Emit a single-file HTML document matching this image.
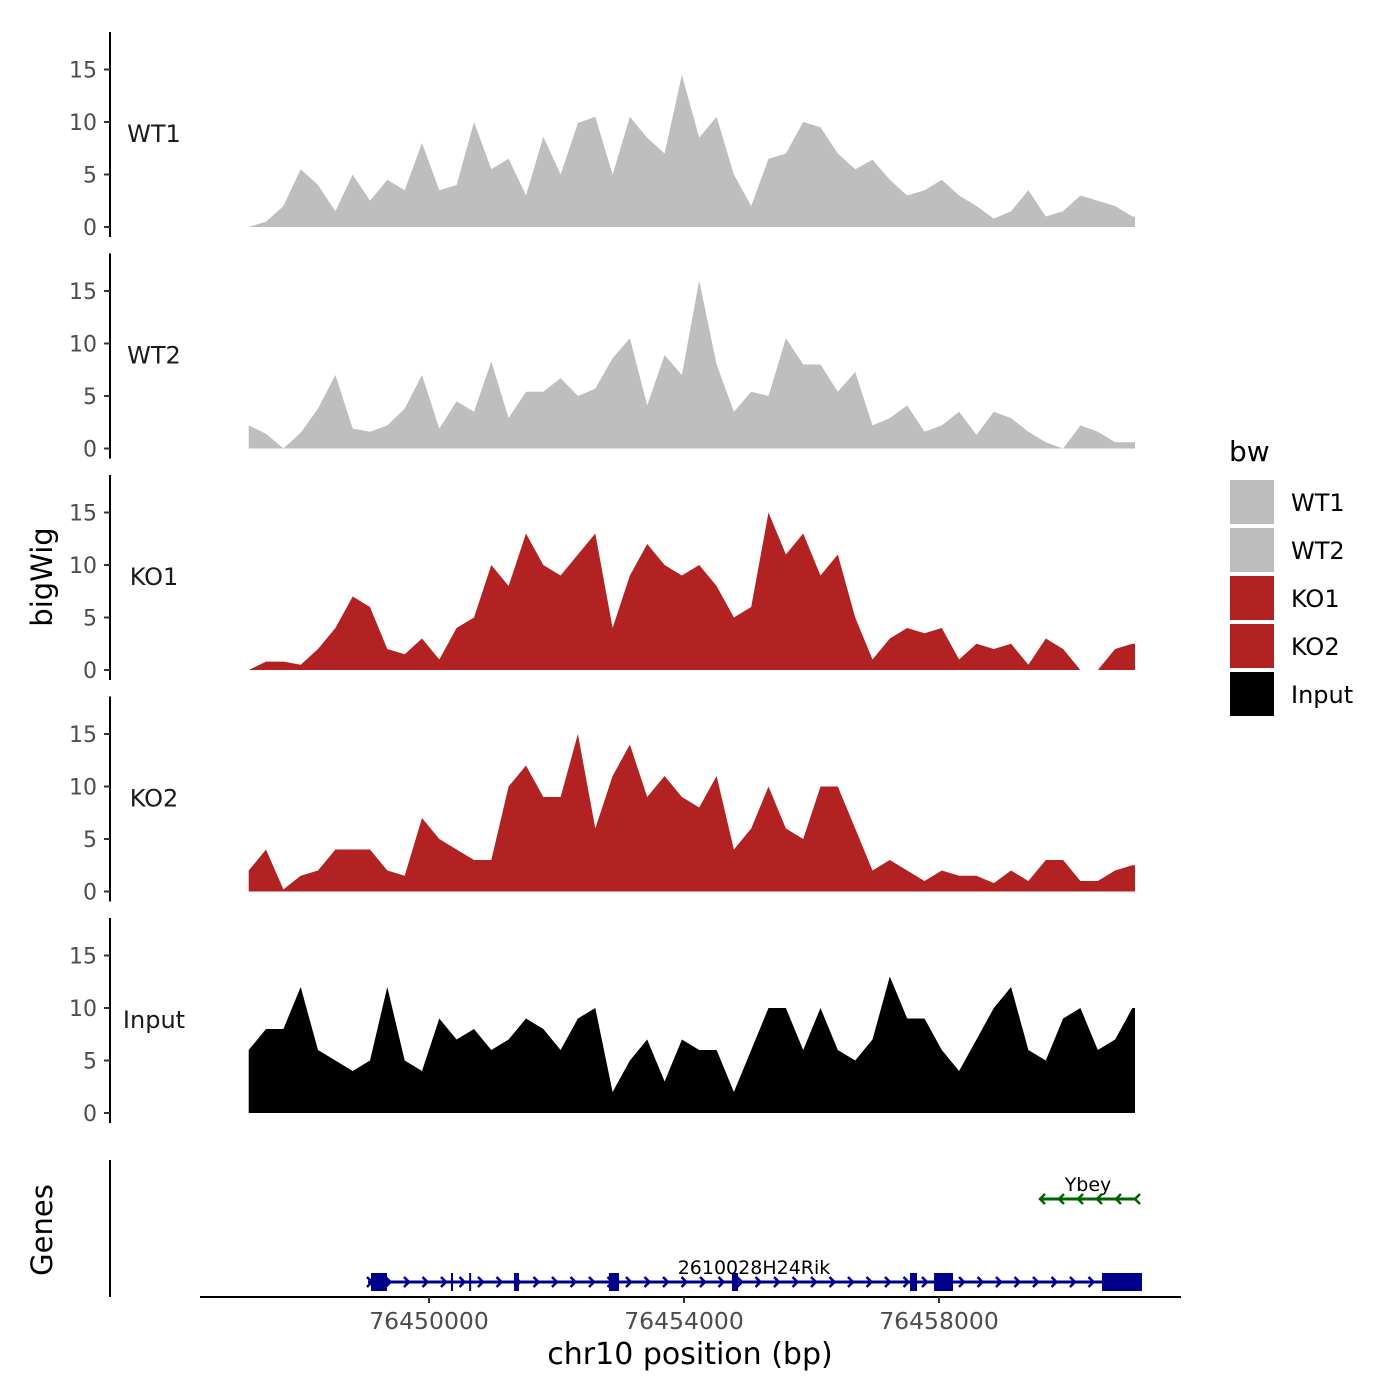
<!DOCTYPE html>
<html><head><meta charset="utf-8">
<style>
body{margin:0;background:#fff;}
svg{display:block;font-family:"DejaVu Sans","Liberation Sans",sans-serif;}
</style></head>
<body>
<svg id="chart" width="1400" height="1400" viewBox="0 0 1400 1400">
<rect width="1400" height="1400" fill="#fff"/>
</svg>
<script>
// ---- data ----
const samples = ["WT1","WT2","KO1","KO2","Input"];
const sampleColors = ["#bebebe","#bebebe","#b22222","#b22222","#000000"];
const binStart = 76447172;
const binStep = 271.8;
const wt1Values = [0,0.5,2,5.5,4,1.5,5,2.5,4.5,3.5,8,3.5,4,10,5.5,6.5,3,8.6,5,9.9,10.5,5,10.5,8.5,7,14.5,8.5,10.5,5,2,6.5,7,10,9.5,7,5.5,6.4,4.5,3,3.5,4.5,3,2,0.8,1.5,3.5,1,1.5,3,2.5,2,1];
const wt2Values = [2.2,1.4,0,1.5,3.8,7,1.9,1.6,2.2,3.8,7,1.9,4.5,3.5,8.3,2.9,5.4,5.4,6.7,5,5.7,8.6,10.5,4.1,8.9,7,16,8,3.5,5.4,5,10.5,8,8,5.4,7.3,2.2,2.9,4.1,1.6,2.2,3.5,1.3,3.5,2.9,1.6,0.6,0,2.2,1.6,0.6,0.6];
const ko1Values = [0,0.8,0.8,0.5,2,4,7,6,2,1.5,3,1,4,5,10,8,13,10,9,11,13,4,9,12,10,9,10,8,5,6,15,11,13,9,11,5,1,3,4,3.5,4,1,2.5,2,2.5,0.5,3,2,0,0,2,2.5];
const ko2Values = [2,4,0.2,1.5,2,4,4,4,2,1.5,7,5,4,3,3,10,12,9,9,15,6,11,14,9,11,9,8,11,4,6,10,6,5,10,10,6,2,3,2,1,2,1.5,1.5,0.8,2,1,3,3,1,1,2,2.5];
const inputValues = [6,8,8,12,6,5,4,5,12,5,4,9,7,8,6,7,9,8,6,9,10,2,5,7,3,7,6,6,2,6,10,10,6,10,6,5,7,13,9,9,6,4,7,10,12,6,5,9,10,6,7,10];
const seriesValues = [wt1Values,wt2Values,ko1Values,ko2Values,inputValues];
const yTicks = [0,5,10,15];
const xTicks = [76450000,76454000,76458000];
const geneName = "2610028H24Rik";
const geneStart = 76449043, geneEnd = 76461106;
const exonStarts = [76449090,76450345,76450630,76451333,76452824,76454753,76457545,76457922,76460557];
const exonEnds   = [76449341,76450376,76450660,76451412,76452980,76454847,76457655,76458220,76461184];
const ybeyName = "Ybey";
const ybeyStart = 76459584, ybeyEnd = 76461106;

// ---- scales ----
const NS="http://www.w3.org/2000/svg";
const svg=document.getElementById('chart');
function xs(bp){return 429+(bp-76450000)*0.06375;}
const panelBase=[227,448.5,670,891.5,1113];
const pxPerUnit=10.5;
function el(tag,attrs,parent){const e=document.createElementNS(NS,tag);for(const k in attrs)e.setAttribute(k,attrs[k]);(parent||svg).appendChild(e);return e;}
function txt(s,attrs,parent){const e=el('text',attrs,parent);e.textContent=s;return e;}

samples.forEach((name,p)=>{
  const base=panelBase[p];
  const g=el('g',{});
  
  
  const vals=seriesValues[p];
  const x0=Math.max(245,xs(binStart)), x1=1135;
  let d='M'+x0+','+base;
  vals.forEach((v,i)=>{let x=xs(binStart+i*binStep);x=Math.min(Math.max(x,245),1135);d+=' L'+x.toFixed(1)+','+(base-v*pxPerUnit).toFixed(1);});
  d+=' L'+x1+','+(base-vals[vals.length-1]*pxPerUnit).toFixed(1)+' L'+x1+','+base+' Z';
  const path=el('path',{d:d,fill:sampleColors[p],stroke:'none'},g);
  
  
  const ax=el('line',{x1:110,x2:110,y1:base-195,y2:base+10,stroke:'#000','stroke-width':2},g);
  
  
  yTicks.forEach(t=>{
    const y=base-t*pxPerUnit;
    el('line',{x1:104,x2:110,y1:y,y2:y,stroke:'#333','stroke-width':2},g);
    const tl=txt(String(t),{x:97,y:y+8,'text-anchor':'end','font-size':22,fill:'#4d4d4d'},g);
    
    
  });
  const lab=txt(name,{x:154,y:base-85,'text-anchor':'middle','font-size':24,fill:'#1a1a1a'},g);
  
  
});

// gene track
const gg=el('g',{});


el('line',{x1:110,x2:110,y1:1160,y2:1297,stroke:'#000','stroke-width':2},gg);
el('line',{x1:200,x2:1181,y1:1297,y2:1297,stroke:'#000','stroke-width':2},gg);
const gy=1282;
el('line',{x1:xs(geneStart),x2:xs(geneEnd),y1:gy,y2:gy,stroke:'#00008b','stroke-width':3},gg);
for(let x=xs(geneStart)+2;x<xs(geneEnd)-8;x+=18.5){
  el('polyline',{points:(x-3)+','+(gy-5)+' '+(x+2)+','+gy+' '+(x-3)+','+(gy+5),fill:'none',stroke:'#00008b','stroke-width':2.5},gg);
}
exonStarts.forEach((s,i)=>{
  const r=el('rect',{x:xs(s),y:gy-9,width:Math.max(2,xs(exonEnds[i])-xs(s)),height:18,fill:'#00008b'},gg);
  
  
});
const gl=txt(geneName,{x:754,y:1274,'text-anchor':'middle','font-size':19,fill:'#000'},gg);


const yy=1199;
el('line',{x1:xs(ybeyStart),x2:xs(ybeyEnd),y1:yy,y2:yy,stroke:'#006400','stroke-width':3},gg);
for(let x=xs(ybeyStart)+2;x<xs(ybeyEnd);x+=19){
  el('polyline',{points:(x+3)+','+(yy-5)+' '+(x-2)+','+yy+' '+(x+3)+','+(yy+5),fill:'none',stroke:'#006400','stroke-width':2.5},gg);
}
const yl=txt(ybeyName,{x:1088,y:1191,'text-anchor':'middle','font-size':19,fill:'#000'},gg);



xTicks.forEach(t=>{
  const x=xs(t);
  el('line',{x1:x,x2:x,y1:1297,y2:1303,stroke:'#333','stroke-width':2});
  const l=txt(String(t),{x:x,y:1329,'text-anchor':'middle','font-size':23.5,fill:'#4d4d4d'});
  
  
});
const xt=txt('chr10 position (bp)',{x:690,y:1364,'text-anchor':'middle','font-size':30,fill:'#000'});


const yt=txt('bigWig',{x:0,y:0,'text-anchor':'middle','font-size':29,fill:'#000',transform:'translate(52,577) rotate(-90)'});


const gt=txt('Genes',{x:0,y:0,'text-anchor':'middle','font-size':29,fill:'#000',transform:'translate(52,1230) rotate(-90)'});



// legend
const lg=el('g',{});


const lt=txt('bw',{x:1229,y:461,'font-size':28,fill:'#000'},lg);


samples.forEach((name,i)=>{
  const y=480+i*48;
  const r=el('rect',{x:1230,y:y,width:44,height:44,fill:sampleColors[i]},lg);
  
  
  const t=txt(name,{x:1291,y:y+31,'font-size':24,fill:'#000'},lg);
  
  
});
</script>
</body></html>
